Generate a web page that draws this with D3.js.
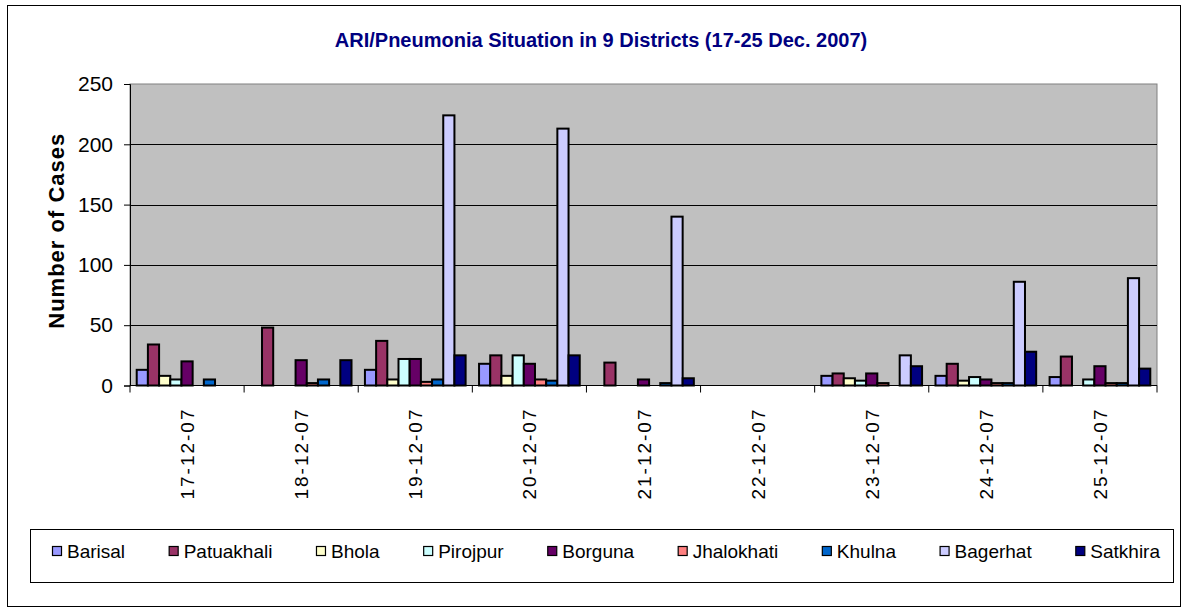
<!DOCTYPE html>
<html>
<head>
<meta charset="utf-8">
<script src="https://cdn.jsdelivr.net/npm/d3@7"></script>
<style>
  body { margin: 0; background: #fff; }
  #chart { width: 1187px; height: 612px; }
  text { font-family: "Liberation Sans", Arial, sans-serif; }
</style>
</head>
<body>
<div id="chart"></div>
<script>
// data
const dates = ["17-12-07", "18-12-07", "19-12-07", "20-12-07", "21-12-07",
               "22-12-07", "23-12-07", "24-12-07", "25-12-07"];
const districts = ["Barisal", "Patuakhali", "Bhola", "Pirojpur", "Borguna",
                   "Jhalokhati", "Khulna", "Bagerhat", "Satkhira"];
const barisal    = [13, 0, 13, 18, 0, 0, 8, 8, 7];
const patuakhali = [34, 48, 37, 25, 19, 0, 10, 18, 24];
const bhola      = [8, 0, 5, 8, 0, 0, 6, 4, 0];
const pirojpur   = [5, 0, 22, 25, 0, 0, 4, 7, 5];
const borguna    = [20, 21, 22, 18, 5, 0, 10, 5, 16];
const jhalokhati = [0, 2, 3, 5, 0, 0, 2, 2, 2];
const khulna     = [5, 5, 5, 4, 2, 0, 0, 2, 2];
const bagerhat   = [0, 0, 224, 213, 140, 0, 25, 86, 89];
const satkhira   = [0, 21, 25, 25, 6, 0, 16, 28, 14];
const yTicks = [0, 50, 100, 150, 200, 250];

const seriesValues = [barisal, patuakhali, bhola, pirojpur, borguna,
                      jhalokhati, khulna, bagerhat, satkhira];
const colors = ["#9999FF", "#993366", "#FFFFCC", "#CCFFFF", "#660066",
                "#FF8080", "#0066CC", "#CCCCFF", "#000080"];

const W = 1187, H = 612;
const plot = { left: 130, right: 1157, top: 84, bottom: 385.5 };

let svg = d3.select("#chart").append("svg")
    .attr("width", W)
    .attr("height", H);

svg.append("rect")
    .attr("width", W).attr("height", H)
    .attr("fill", "#fff");

// outer chart frame
svg.append("rect")
    .attr("x", 7.5).attr("y", 5.5)
    .attr("width", 1173).attr("height", 601)
    .attr("fill", "none")
    .attr("stroke", "#000")
    .attr("stroke-width", 1);

// title
svg.append("text")
    .attr("x", 601)
    .attr("y", 47)
    .attr("text-anchor", "middle")
    .attr("font-size", 20)
    .attr("font-weight", "bold")
    .attr("fill", "#000080")
    .text("ARI/Pneumonia Situation in 9 Districts (17-25 Dec. 2007)");

let x = d3.scaleBand().domain(dates).range([plot.left, plot.right]);
let xs = d3.scaleBand().domain(districts).range([0, x.bandwidth()])
    .paddingInner(0).paddingOuter(0.6);
let y = d3.scaleLinear().domain([0, 250]).range([plot.bottom, plot.top]);

// plot area
svg.append("rect")
    .attr("x", plot.left)
    .attr("y", plot.top)
    .attr("width", plot.right - plot.left)
    .attr("height", plot.bottom - plot.top)
    .attr("fill", "#C0C0C0")
    .attr("stroke", "#808080")
    .attr("stroke-width", 1);

// gridlines
svg.append("g")
    .selectAll("line")
    .data(yTicks.filter(d => d > 0 && d < 250))
    .join("line")
    .attr("x1", plot.left).attr("x2", plot.right)
    .attr("y1", d => Math.round(y(d)) + 0.5)
    .attr("y2", d => Math.round(y(d)) + 0.5)
    .attr("stroke", "#000")
    .attr("stroke-width", 1);

// bars
let groups = svg.append("g")
    .selectAll("g")
    .data(seriesValues)
    .join("g")
    .attr("fill", (d, i) => colors[i]);

groups.selectAll("rect")
    .data((vals, i) => vals.map((v, j) => ({ v: v, date: dates[j], name: districts[i] })))
    .join("rect")
    .filter(d => d.v > 0)
    .attr("x", d => x(d.date) + xs(d.name))
    .attr("y", d => y(d.v))
    .attr("width", xs.bandwidth())
    .attr("height", d => plot.bottom - y(d.v))
    .attr("stroke", "#000")
    .attr("stroke-width", 2);

// y axis
let yAxis = d3.axisLeft(y).tickValues(yTicks).tickSize(6).tickPadding(11);
let gy = svg.append("g")
    .attr("transform", `translate(${plot.left},0)`)
    .call(yAxis);
gy.select(".domain").attr("stroke", "#000");
gy.selectAll(".tick line").attr("stroke", "#000");
gy.selectAll(".tick text")
    .attr("font-size", 21)
    .attr("font-family", "Liberation Sans, Arial, sans-serif")
    .attr("fill", "#000");

// x axis: ticks between categories
let gx = svg.append("g");
gx.append("line")
    .attr("x1", plot.left).attr("x2", plot.right)
    .attr("y1", plot.bottom).attr("y2", plot.bottom)
    .attr("stroke", "#000")
    .attr("stroke-width", 1.2);
gx.selectAll(".sep")
    .data(dates.concat(["end"]))
    .join("line")
    .attr("class", "sep")
    .attr("x1", (d, i) => i < dates.length ? x(d) : plot.right)
    .attr("x2", (d, i) => i < dates.length ? x(d) : plot.right)
    .attr("y1", plot.bottom)
    .attr("y2", plot.bottom + 7)
    .attr("stroke", "#000");
gx.selectAll(".lab")
    .data(dates)
    .join("text")
    .attr("class", "lab")
    .attr("transform", d => `translate(${x(d) + x.bandwidth() / 2 + 7},${plot.bottom + 22}) rotate(-90)`)
    .attr("text-anchor", "end")
    .attr("font-size", 19)
    .attr("letter-spacing", 2)
    .text(d => d);

// y axis title
svg.append("text")
    .attr("transform", `translate(64,${(plot.top + plot.bottom) / 2 - 4}) rotate(-90)`)
    .attr("text-anchor", "middle")
    .attr("font-size", 22)
    .attr("font-weight", "bold")
    .attr("letter-spacing", 1)
    .text("Number of Cases");

// legend
let legend = svg.append("g");
legend.append("rect")
    .attr("x", 30.5).attr("y", 529.5)
    .attr("width", 1143).attr("height", 53)
    .attr("fill", "#fff")
    .attr("stroke", "#000");

let items = legend.selectAll("g")
    .data(districts)
    .join("g");
items.append("text")
    .attr("y", 558)
    .attr("font-size", 19)
    .text(d => d);

// spread items so the first marker starts at 52 and the last text ends near 1160
let widths = items.select("text").nodes().map(n => n.getComputedTextLength());
let used = d3.sum(widths) + districts.length * 15;
let gap = (1160 - 52 - used) / (districts.length - 1);
let pos = 52;
items.each(function (d, i) {
    let g = d3.select(this);
    g.append("rect")
        .attr("x", pos + 0.5).attr("y", 546.5)
        .attr("width", 9).attr("height", 9)
        .attr("fill", colors[i])
        .attr("stroke", "#000")
        .attr("stroke-width", 1.2);
    g.select("text").attr("x", pos + 15);
    pos += 15 + widths[i] + gap;
});
</script>
</body>
</html>
